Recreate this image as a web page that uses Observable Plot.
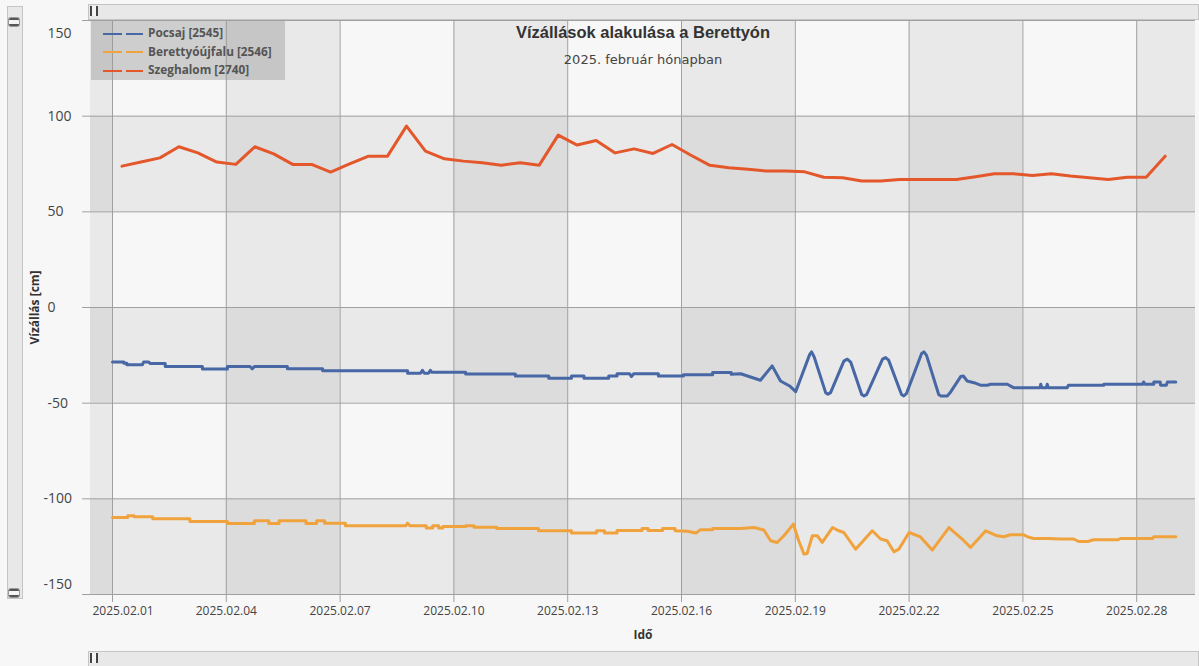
<!DOCTYPE html>
<html><head><meta charset="utf-8">
<script src="https://cdn.jsdelivr.net/npm/d3@7"></script>
<script src="https://cdn.jsdelivr.net/npm/@observablehq/plot@0.6"></script>
<style>
body{margin:0;background:#f7f7f7;}
#wrap{position:relative;width:1199px;height:666px;overflow:hidden;background:#f7f7f7;font-family:"Open Sans",sans-serif;}
#wrap > svg{position:absolute;left:0;top:0;}
.ov{position:absolute;}
#title{left:393px;width:500px;top:22px;text-align:center;font:bold 16.5px "Liberation Sans",Arial,sans-serif;color:#333;line-height:20px;}
#subtitle{left:443px;width:400px;top:52px;text-align:center;font:13px "DejaVu Sans",sans-serif;color:#444;line-height:16px;}
#legend{left:91px;top:21px;width:194px;height:59px;background:rgba(150,150,150,0.42);}
.li{position:absolute;left:12px;height:18px;line-height:18px;font:bold 11.8px "Open Sans",sans-serif;color:#555;white-space:nowrap;}
.li svg{position:static;vertical-align:middle;margin-right:5px;}
.hs{left:88px;width:1109px;height:14px;background:#e8e8e8;border:1px solid #c4c4c4;}
.vs{left:7px;width:14px;top:6px;height:591px;background:#e8e8e8;border:1px solid #c4c4c4;}
.thumbh{position:absolute;left:1px;top:1px;width:4px;height:10px;border-left:2px solid #444;border-right:2px solid #444;background:#f4f4f4;}
.thumbv{position:absolute;left:1px;width:10px;height:4px;border-top:2px solid #555;border-bottom:2px solid #555;border-radius:2px;background:#f4f4f4;box-shadow:0 0 0 1px #999;}
</style></head><body><div id="wrap"></div>
<script>
// ---- data ----
const seriesNames = ["Pocsaj [2545]", "Berettyóújfalu [2546]", "Szeghalom [2740]"];
const seriesColors = ["#4767a5", "#f0a23c", "#e4572b"];
const xTickLabels = ["2025.02.01","2025.02.04","2025.02.07","2025.02.10","2025.02.13","2025.02.16","2025.02.19","2025.02.22","2025.02.25","2025.02.28"];
const yTicks = [150, 100, 50, 0, -50, -100, -150];

// time given as days since 2025-02-01 00:00
const pocsajDays = [0.00,0.30,0.30,0.38,0.38,0.79,0.82,0.95,1.00,1.39,
1.39,2.37,2.37,3.03,3.03,3.63,3.68,3.74,4.61,4.61,
5.54,5.54,7.78,7.78,8.12,8.17,8.22,8.33,8.38,8.42,
9.31,9.31,10.62,10.62,11.50,11.50,12.10,12.10,12.43,12.43,
13.08,13.08,13.30,13.30,13.63,13.68,13.74,14.39,14.39,15.05,
15.05,15.82,15.82,16.31,16.31,16.56,17.08,17.39,17.61,17.85,
18.01,18.38,18.43,18.50,18.80,18.86,18.93,19.28,19.37,19.46,
19.75,19.81,19.88,20.30,20.38,20.46,20.80,20.86,20.93,21.33,
21.39,21.46,21.78,21.83,22.01,22.10,22.36,22.43,22.53,22.71,
22.88,23.06,23.15,23.59,23.75,24.45,24.47,24.50,24.62,24.64,
24.67,25.17,25.20,26.13,26.13,27.16,27.18,27.22,27.45,27.45,
27.62,27.63,27.78,27.81,28.03];
const pocsajValues = [-28.5,-28.5,-29.2,-29.2,-29.9,-29.9,-28.5,-28.5,-29.3,-29.3,
-30.9,-30.9,-32.1,-32.1,-30.9,-30.9,-32.1,-30.9,-30.9,-32.0,
-32.0,-33.0,-33.0,-34.4,-34.4,-32.8,-34.4,-34.4,-32.8,-33.9,
-33.9,-34.7,-34.7,-35.8,-35.8,-37.0,-37.0,-35.8,-35.8,-37.0,
-37.0,-35.8,-35.8,-34.6,-34.6,-36.1,-34.6,-34.6,-35.8,-35.8,
-35.1,-35.1,-34.0,-34.0,-34.9,-34.6,-38.0,-30.5,-38.4,-41.0,
-44.0,-24.5,-23.2,-26.0,-44.5,-45.3,-44.5,-28.0,-27.0,-28.5,
-45.5,-46.2,-45.5,-27.0,-26.2,-27.5,-45.5,-46.2,-45.0,-24.0,
-23.2,-25.0,-45.5,-46.2,-46.2,-44.0,-36.1,-35.8,-38.4,-39.3,
-40.6,-40.6,-40.1,-40.1,-41.9,-41.9,-40.1,-41.9,-41.9,-40.1,
-41.9,-41.9,-40.6,-40.6,-40.1,-40.1,-38.9,-40.1,-40.1,-38.9,
-38.9,-40.6,-40.6,-38.9,-38.9];

const berettyoDays = [0.00,0.40,0.40,0.57,0.57,1.06,1.06,2.04,2.04,3.03,
3.03,3.74,3.74,4.12,4.12,4.39,4.39,5.10,5.10,5.38,
5.38,5.59,5.59,6.14,6.14,7.73,7.78,7.84,8.27,8.27,
8.44,8.44,8.60,8.60,8.71,8.71,9.31,9.31,9.53,9.53,
10.13,10.13,11.23,11.23,12.10,12.10,12.76,12.76,12.97,12.97,
13.30,13.30,13.96,13.96,14.12,14.12,14.50,14.50,14.83,14.83,
15.16,15.38,15.49,15.82,15.82,16.56,16.91,17.17,17.35,17.52,
17.70,17.95,18.09,18.23,18.31,18.45,18.58,18.71,18.98,19.15,
19.28,19.59,20.03,20.25,20.42,20.60,20.73,21.00,21.30,21.61,
22.05,22.40,22.62,23.02,23.32,23.50,23.67,24.02,24.12,24.28,
24.65,24.99,25.34,25.47,25.71,25.86,26.50,26.58,27.42,27.45,
28.03];
const berettyoValues = [-109.8,-109.8,-108.9,-108.9,-109.4,-109.4,-110.4,-110.4,-111.8,-111.8,
-112.9,-112.9,-111.5,-111.5,-112.9,-112.9,-111.5,-111.5,-112.9,-112.9,
-111.5,-111.5,-112.7,-112.7,-114.1,-114.1,-112.7,-114.1,-114.1,-115.3,
-115.3,-114.1,-114.1,-115.3,-115.3,-114.5,-114.5,-114.1,-114.1,-114.8,
-114.8,-115.5,-115.5,-116.7,-116.7,-117.9,-117.9,-116.7,-116.7,-117.9,
-117.9,-116.6,-116.6,-115.5,-115.5,-116.6,-116.6,-115.5,-115.5,-116.7,
-116.9,-117.9,-116.2,-116.2,-115.5,-115.5,-115.0,-116.3,-121.9,-122.8,
-119.3,-113.2,-121.9,-128.9,-128.6,-119.3,-119.3,-122.8,-115.0,-116.7,
-117.6,-126.3,-116.7,-121.0,-121.9,-127.7,-126.3,-117.6,-119.9,-126.8,
-115.0,-121.0,-125.4,-116.7,-119.3,-119.8,-118.8,-118.8,-119.8,-120.7,
-120.7,-121.0,-121.0,-122.3,-122.3,-121.4,-121.4,-120.7,-120.7,-119.8,
-119.8];

const szeghalomDays = [0.25,0.75,1.25,1.75,2.25,2.75,3.25,3.75,4.25,4.75,
5.25,5.75,6.25,6.75,7.25,7.75,8.25,8.75,9.25,9.75,
10.25,10.75,11.25,11.75,12.25,12.75,13.25,13.75,14.25,14.75,
15.25,15.75,16.25,16.75,17.25,17.75,18.25,18.75,19.25,19.75,
20.25,20.75,21.25,21.75,22.25,22.75,23.25,23.75,24.25,24.75,
25.25,25.75,26.25,26.75,27.25,27.75];
const szeghalomValues = [73.9,76.0,78.2,84.0,80.8,76.0,74.8,84.0,80.3,74.8,
74.8,70.8,75.1,79.1,79.1,94.8,81.7,77.7,76.5,75.6,
74.4,75.6,74.4,90.1,84.9,87.3,80.8,82.9,80.5,85.2,
79.6,74.3,73.0,72.2,71.3,71.3,70.9,68.1,67.8,66.1,
66.1,66.9,66.9,66.9,66.9,68.3,69.9,69.9,69.0,69.9,
68.7,67.8,66.9,68.1,68.1,79.1];

// ---- build ----
const T0 = Date.UTC(2025, 1, 1);
const toDate = d => new Date(T0 + d * 864e5);
const parseTick = d3.utcParse("%Y.%m.%d");
const tickDates = xTickLabels.map(parseTick);
const xDomain = [toDate(-0.58), toDate(28.55)];

const rows = [];
const add = (name, days, vals) => days.forEach((d, i) => rows.push({series: name, date: toDate(d), value: vals[i]}));
add(seriesNames[0], pocsajDays, pocsajValues);
add(seriesNames[1], berettyoDays, berettyoValues);
add(seriesNames[2], szeghalomDays, szeghalomValues);

// background bands
const xb = [xDomain[0], ...tickDates, xDomain[1]];
const yb = yTicks;
const shades = ["#f7f7f7", "#e9e9e9", "#dcdcdc"];
const bands = [];
for (let c = 0; c < xb.length - 1; c++) for (let r = 0; r < yb.length - 1; r++) {
  const n = (c % 2 === 0 ? 1 : 0) + (r % 2 === 1 ? 1 : 0);
  bands.push({x1: xb[c], x2: xb[c + 1], y1: yb[r], y2: yb[r + 1], fill: shades[n]});
}

const gridColor = "#a0a0a0";
const fmt = d3.utcFormat("%Y.%m.%d");
const midY = yTicks.filter(v => Math.abs(v) !== 150);

const chart = Plot.plot({
  width: 1199, height: 666,
  marginLeft: 90, marginRight: 4, marginTop: 20, marginBottom: 72,
  style: {background: "transparent", fontFamily: "'Open Sans', sans-serif"},
  x: {type: "utc", domain: xDomain, axis: null},
  y: {domain: [-150, 150], axis: null},
  color: {domain: seriesNames, range: seriesColors},
  marks: [
    Plot.rect(bands, {x1: "x1", x2: "x2", y1: "y1", y2: "y2", fill: "fill"}),
    Plot.gridX(tickDates, {stroke: gridColor, strokeOpacity: 1}),
    Plot.gridY(yTicks, {stroke: gridColor, strokeOpacity: 1}),
    Plot.axisX(tickDates, {tickSize: 8, tickFormat: () => "", stroke: gridColor}),
    Plot.axisY(yTicks, {tickSize: 8, tickFormat: () => "", stroke: gridColor}),
    Plot.line(rows, {x: "date", y: "value", z: "series", stroke: "series", strokeWidth: 3, strokeLinejoin: "round", strokeLinecap: "round"}),
    // x tick labels
    Plot.text(tickDates.slice(1), {x: d => d, text: d => fmt(d), frameAnchor: "bottom", dy: 20, fontSize: 12, fill: "#444"}),
    Plot.text(tickDates.slice(0, 1), {x: d => d, text: d => fmt(d), frameAnchor: "bottom", dy: 20, dx: -20, textAnchor: "start", fontSize: 12, fill: "#444"}),
    // y tick labels
    Plot.text(midY.filter(v => v > -100), {y: d => d, text: d => String(d), frameAnchor: "left", dx: -43, textAnchor: "start", fontSize: 14, fill: "#444"}),
    Plot.text([-100], {y: d => d, text: d => String(d), frameAnchor: "left", dx: -47, textAnchor: "start", fontSize: 14, fill: "#444"}),
    Plot.text([150], {y: d => d, text: d => String(d), frameAnchor: "left", dx: -43, dy: 13, textAnchor: "start", fontSize: 14, fill: "#444"}),
    Plot.text([-150], {y: d => d, text: d => String(d), frameAnchor: "left", dx: -47, dy: -10, textAnchor: "start", fontSize: 14, fill: "#444"}),
    // axis titles
    Plot.text(["Idő"], {frameAnchor: "bottom", dy: 44, fontWeight: "bold", fontSize: 12, fill: "#333"}),
    Plot.text(["Vízállás [cm]"], {frameAnchor: "left", dx: -55, rotate: -90, textAnchor: "middle", fontWeight: "bold", fontSize: 12, fill: "#333"})
  ]
});

const wrap = document.getElementById("wrap");
wrap.appendChild(chart);

function el(cls, id, html) {
  const d = document.createElement("div");
  d.className = "ov " + cls; if (id) d.id = id; if (html != null) d.innerHTML = html;
  wrap.appendChild(d); return d;
}
el("", "title", "Vízállások alakulása a Berettyón");
el("", "subtitle", "2025. február hónapban");
const lg = el("", "legend");
seriesNames.forEach((n, i) => {
  const it = document.createElement("div");
  it.className = "li";
  it.style.top = (3 + i * 18.5) + "px";
  it.innerHTML = `<svg width="40" height="6"><line x1="0" y1="3" x2="40" y2="3" stroke="${seriesColors[i]}" stroke-width="2" stroke-dasharray="19 4"/></svg>${n}`;
  lg.appendChild(it);
});
// scrollbars
const barTop = el("hs", null); barTop.style.top = "4px";
barTop.innerHTML = '<div class="thumbh"></div>';
const barBottom = el("hs", null); barBottom.style.top = "651px";
barBottom.innerHTML = '<div class="thumbh"></div>';
const barLeft = el("vs", null);
barLeft.innerHTML = '<div class="thumbv" style="top:11px"></div><div class="thumbv" style="top:582px"></div>';
</script></body></html>
